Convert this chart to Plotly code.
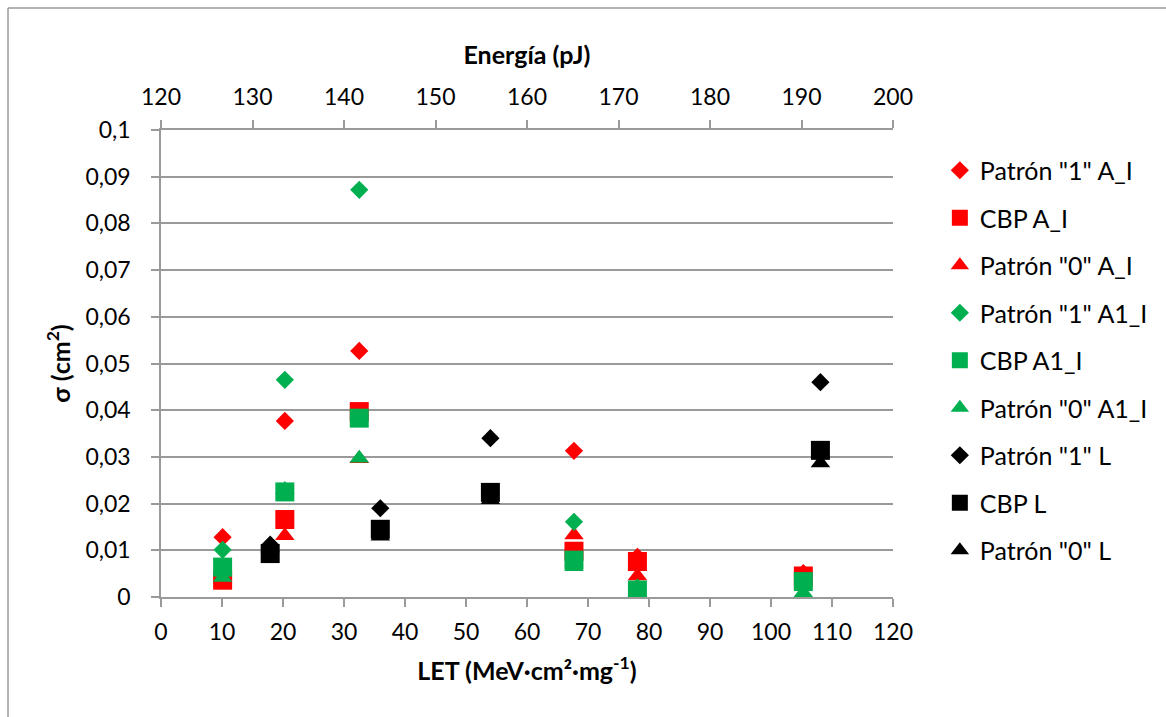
import plotly.graph_objects as go

# LET values (MeV·cm²·mg⁻¹) for each test series
let_ai = [10.1, 20.3, 32.5, 67.7, 78.1, 105.3]
let_l = [17.9, 35.95, 54.0, 108.1]

# Cross sections σ (cm²)
p1_ai = [0.0128, 0.0377, 0.0527, 0.0313, 0.0086, 0.0051]
cbp_ai = [0.0036, 0.0166, 0.0397, 0.0098, 0.0076, 0.0045]
p0_ai = [0.0038, 0.0131, 0.0296, 0.0133, 0.0045, 0.0030]

p1_a1i = [0.0101, 0.0465, 0.0872, 0.0161, 0.0020, 0.0025]
cbp_a1i = [0.0064, 0.0225, 0.0383, 0.0079, 0.0015, 0.0033]
p0_a1i = [0.0042, 0.0230, 0.0297, 0.0065, 0.0010, 0.0009]

p1_l = [0.0112, 0.0190, 0.0340, 0.0460]
cbp_l = [0.0093, 0.0145, 0.0224, 0.0314]
p0_l = [0.0105, 0.0130, 0.0208, 0.0287]

# Axis ticks
let_ticks = list(range(0, 121, 10))
energy_ticks = list(range(120, 201, 10))
sigma_ticks = [0, 0.01, 0.02, 0.03, 0.04, 0.05, 0.06, 0.07, 0.08, 0.09, 0.1]
sigma_labels = ["0", "0,01", "0,02", "0,03", "0,04", "0,05", "0,06", "0,07", "0,08", "0,09", "0,1"]

RED = "#FF0000"
GREEN = "#00B050"
BLACK = "#000000"
GRID = "#9A9A9A"
FONT = "Lato"

series = [
    ('Patrón "1" A_I', let_ai, p1_ai, RED, "diamond", 14),
    ("CBP A_I", let_ai, cbp_ai, RED, "square", 19),
    ('Patrón "0" A_I', let_ai, p0_ai, RED, "triangle-up", 17),
    ('Patrón "1" A1_I', let_ai, p1_a1i, GREEN, "diamond", 14),
    ("CBP A1_I", let_ai, cbp_a1i, GREEN, "square", 19),
    ('Patrón "0" A1_I', let_ai, p0_a1i, GREEN, "triangle-up", 17),
    ('Patrón "1" L', let_l, p1_l, BLACK, "diamond", 14),
    ("CBP L", let_l, cbp_l, BLACK, "square", 19),
    ('Patrón "0" L', let_l, p0_l, BLACK, "triangle-up", 17),
]

fig = go.Figure()
for i, (name, xs, ys, color, symbol, size) in enumerate(series):
    fig.add_trace(go.Scatter(
        x=xs, y=ys, name=name, mode="markers", legendgroup=f"g{i}",
        marker=dict(color=color, symbol=symbol, size=size, line=dict(width=0)),
    ))

# Energy axis on top (carries no marks of its own)
fig.add_trace(go.Scatter(x=[energy_ticks[0], energy_ticks[-1]], y=[None, None],
                         xaxis="x2", mode="markers", showlegend=False, hoverinfo="skip"))

axis_common = dict(
    showline=True, linecolor=GRID, linewidth=1.5,
    ticks="outside", tickcolor=GRID, ticklen=8, tickwidth=1.5,
    tickfont=dict(family=FONT, size=23, color="#000000"),
    showgrid=False, zeroline=False,
)

fig.update_layout(
    width=1166, height=717,
    margin=dict(l=161, r=273, t=130, b=120),
    paper_bgcolor="white", plot_bgcolor="white",
    font=dict(family=FONT, color="#000000"),
    xaxis=dict(
        range=[0, 120], tickvals=let_ticks, ticklabelstandoff=6,
        title=dict(text="<b>LET (MeV·cm²·mg<sup>-1</sup>)</b>", font=dict(family=FONT, size=25), standoff=18),
        **axis_common,
    ),
    xaxis2=dict(
        range=[120, 200], tickvals=energy_ticks, overlaying="x", side="top", anchor="y",
        ticklabelstandoff=6,
        title=dict(text="<b>Energía (pJ)</b>", font=dict(family=FONT, size=25), standoff=10),
        **axis_common,
    ),
    yaxis=dict(
        range=[0, 0.1], tickvals=sigma_ticks, ticktext=sigma_labels, ticklabelstandoff=16,
        title=dict(text="<b>σ (cm<sup>2</sup>)</b>", font=dict(family=FONT, size=25), standoff=8),
        showline=True, linecolor=GRID, linewidth=1.5,
        ticks="outside", tickcolor=GRID, ticklen=8, tickwidth=1.5,
        tickfont=dict(family=FONT, size=23, color="#000000"),
        showgrid=True, gridcolor=GRID, gridwidth=1.5, zeroline=False,
    ),
    legend=dict(
        x=1.064, y=0.9625, xanchor="left", yanchor="top",
        font=dict(family=FONT, size=25, color="#000000"),
        traceorder="grouped", tracegroupgap=12, bgcolor="rgba(0,0,0,0)",
    ),
    showlegend=True,
)

# Chart frame (left and top edges)
fig.add_shape(type="line", xref="paper", yref="paper",
              x0=-0.209, x1=-0.209, y0=1.261, y1=-0.5, line=dict(color=GRID, width=1.5))
fig.add_shape(type="line", xref="paper", yref="paper",
              x0=-0.209, x1=1.5, y0=1.261, y1=1.261, line=dict(color=GRID, width=1.5))

fig.write_html("out.html")
